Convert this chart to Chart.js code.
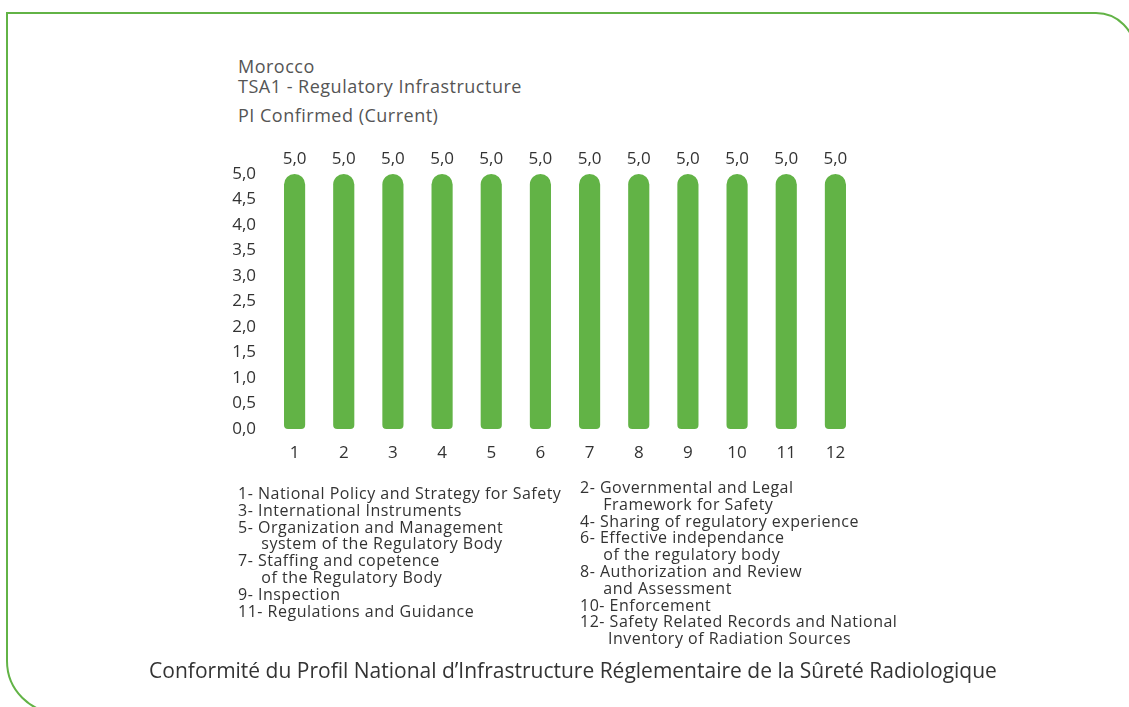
<!DOCTYPE html>
<html>
<head>
<meta charset="utf-8">
<script src="https://cdn.jsdelivr.net/npm/chart.js@4"></script>
<style>
  html, body { margin: 0; padding: 0; width: 1129px; height: 707px; overflow: hidden; background: #fff; }
  body { position: relative; font-family: "Open Sans", Lato, sans-serif; color: #3a3a3a; }
  #frame {
    position: absolute; left: 6px; top: 12px; width: 1130px; height: 702px;
    box-sizing: border-box; border: 2px solid #62b346;
    border-top-right-radius: 40px; border-bottom-left-radius: 53px;
  }
  #chartBox { position: absolute; left: 0; top: 0; width: 1129px; height: 707px; }
  .t { position: absolute; font-size: 18px; letter-spacing: 0.5px; white-space: nowrap; color: #555; }
  .leg { position: absolute; font-size: 16px; letter-spacing: 0.5px; line-height: 16.8px; white-space: pre; color: #333; }
  #caption { position: absolute; left: 0; width: 1146px; top: 656px; text-align: center; font-size: 21px; color: #333; }
</style>
</head>
<body>
<div id="frame"></div>
<div class="t" style="left:238px; top:54px;">Morocco</div>
<div class="t" style="left:238px; top:74px;">TSA1 - Regulatory Infrastructure</div>
<div class="t" style="left:238px; top:103px;">PI Confirmed (Current)</div>
<div id="chartBox"><canvas id="myChart" width="1129" height="707"></canvas></div>
<div class="leg" id="legLeft" style="left:238px; top:485px;"></div>
<div class="leg" id="legRight" style="left:580px; top:479px;"></div>
<div id="caption">Conformité du Profil National d’Infrastructure Réglementaire de la Sûreté Radiologique</div>
<script>
const categories = ['1', '2', '3', '4', '5', '6', '7', '8', '9', '10', '11', '12'];
const values = [5.0, 5.0, 5.0, 5.0, 5.0, 5.0, 5.0, 5.0, 5.0, 5.0, 5.0, 5.0];
const legendLeft = [
    '1- National Policy and Strategy for Safety',
    '3- International Instruments',
    '5- Organization and Management\n     system of the Regulatory Body',
    '7- Staffing and copetence\n     of the Regulatory Body',
    '9- Inspection',
    '11- Regulations and Guidance'
];
const legendRight = [
    '2- Governmental and Legal\n     Framework for Safety',
    '4- Sharing of regulatory experience',
    '6- Effective independance\n     of the regulatory body',
    '8- Authorization and Review\n     and Assessment',
    '10- Enforcement',
    '12- Safety Related Records and National\n      Inventory of Radiation Sources'
];

document.getElementById('legLeft').textContent = legendLeft.join('\n');
document.getElementById('legRight').textContent = legendRight.join('\n');

function fmt(v) {
    return Number(v).toFixed(1).replace('.', ',');
}

const valueLabels = {
    id: 'valueLabels',
    afterDatasetsDraw(chart) {
        const ctx = chart.ctx;
        const meta = chart.getDatasetMeta(0);
        ctx.save();
        ctx.font = '17px "Open Sans", sans-serif';
        ctx.fillStyle = '#333';
        ctx.textAlign = 'center';
        ctx.textBaseline = 'bottom';
        meta.data.forEach((bar, i) => {
            ctx.fillText(fmt(values[i]), bar.x, bar.y - 6);
        });
        ctx.restore();
    }
};

const ctx = document.getElementById('myChart');
Chart.defaults.font.family = '"Open Sans", sans-serif';
Chart.defaults.color = '#333';

new Chart(ctx, {
    type: 'bar',
    data: {
        labels: categories,
        datasets: [{
            data: values,
            backgroundColor: '#62b346',
            borderSkipped: false,
            borderRadius: { topLeft: 11, topRight: 11, bottomLeft: 4, bottomRight: 4 },
            barPercentage: 0.43,
            categoryPercentage: 1.0
        }]
    },
    options: {
        responsive: false,
        animation: false,
        events: [],
        layout: {
            padding: { left: 230, top: 174, right: 269, bottom: 238 }
        },
        scales: {
            x: {
                afterFit: (scale) => { scale.height = 40; },
                ticks: {
                    color: '#333',
                    padding: 6,
                    font: { size: 17 }
                },
                grid: { display: false },
                border: { display: false }
            },
            y: {
                min: 0,
                max: 5,
                afterFit: (scale) => { scale.width = 40; },
                ticks: {
                    stepSize: 0.5,
                    color: '#333',
                    padding: 6,
                    font: { size: 17 },
                    callback: (v) => fmt(v)
                },
                grid: { display: false },
                border: { display: false }
            }
        },
        plugins: {
            legend: { display: false },
            tooltip: { enabled: false }
        }
    },
    plugins: [valueLabels]
});
</script>
</body>
</html>
